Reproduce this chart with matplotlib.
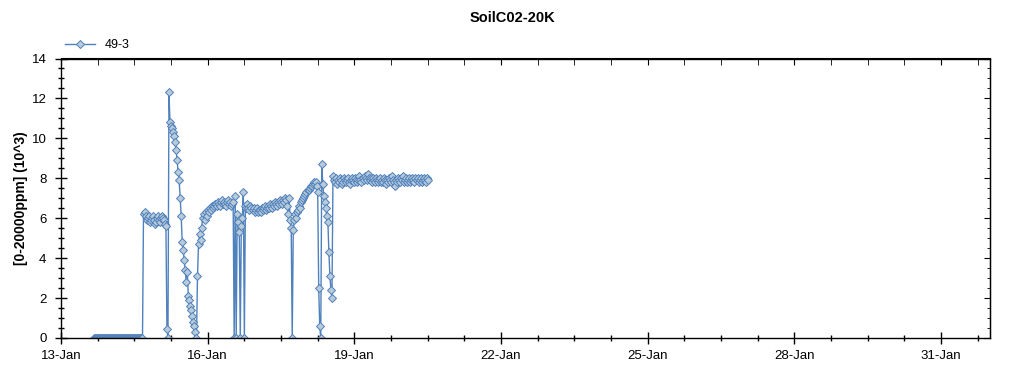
import datetime as dt
import numpy as np
import matplotlib
matplotlib.use('Agg')
import matplotlib.pyplot as plt
from matplotlib.ticker import MultipleLocator, FuncFormatter

plt.rcParams['font.family'] = ['Liberation Sans', 'DejaVu Sans']

# logger 49-3, one reading every 30 min starting 13-Jan 16:00
base_date = dt.datetime(2014, 1, 13)
start_hour = 16
step_minutes = 30

# values in 10^3 ppm
seg_zero = [0.0, 0.0, 0.0, 0.0, 0.0, 0.0, 0.0, 0.0, 0.0, 0.0,
            0.0, 0.0, 0.0, 0.0, 0.0, 0.0, 0.0, 0.0, 0.0, 0.0,
            0.0, 0.0, 0.0, 0.0, 0.0, 0.0, 0.0, 0.0, 0.0, 0.0,
            0.0, 0.0, 0.0, 0.0, 0.0, 0.0, 0.0, 0.0, 0.0, 0.0,
            0.0, 0.0, 0.0, 0.0, 0.0, 0.0, 0.0, 0.0, 0.0]
seg_first = [6.2, 6.3, 6.1, 5.9, 6.0, 6.1, 5.8, 5.9, 6.0, 6.1,
             5.9, 5.7, 5.8, 6.0, 6.1, 5.9, 5.8, 6.0, 6.1, 6.0,
             5.9, 5.7, 5.6]
seg_peak = [0.45, 0.0, 12.3, 10.8, 10.6, 10.5, 10.3, 10.1, 9.8, 9.4,
            8.9, 8.3, 7.9, 7.0, 6.1, 4.8, 4.4, 3.9, 3.4, 2.8,
            3.3, 2.1, 1.9, 1.6, 1.4, 1.1, 0.8, 0.6, 0.3, 0.0]
seg_rise = [3.1, 4.7, 5.2, 4.9, 5.5, 6.0, 6.2, 5.9, 6.3, 6.1,
            6.4, 6.3, 6.5, 6.4, 6.6, 6.5, 6.6, 6.7,
            6.7, 6.6, 6.8, 6.7, 6.6, 6.8, 6.9, 6.7, 6.8, 6.7,
            6.6, 6.8, 6.9, 6.7, 6.8, 6.6, 6.7]
seg_drops = [6.8, 0.0, 7.1, 0.0, 6.2, 5.8, 5.3, 0.0, 5.6, 6.0, 7.3, 0.0]
seg_flat = [6.6, 6.5, 6.7, 6.5, 6.4, 6.6, 6.5, 6.4, 6.5, 6.3,
            6.4, 6.5, 6.3, 6.4, 6.4,
            6.3, 6.5, 6.4, 6.5, 6.6, 6.4, 6.5, 6.6, 6.5, 6.7,
            6.6, 6.5, 6.7, 6.6, 6.8, 6.7, 6.6, 6.8, 6.7, 6.9,
            6.8, 6.7,
            6.9, 6.8, 7.0, 6.9, 6.6, 6.2, 7.0, 5.9, 5.5]
seg_hump = [0.0, 5.4, 5.9, 6.2, 6.0, 6.3, 6.4, 6.6, 6.5, 6.8,
            6.9, 7.0, 7.1, 7.2, 7.3, 7.4, 7.4, 7.5, 7.6, 7.6,
            7.7, 7.8, 7.7, 7.8, 7.6, 7.3, 2.5, 0.6, 0.0, 8.7,
            7.7, 7.1, 6.8, 6.5, 6.1, 5.8, 4.3, 3.1, 2.4, 2.0]
seg_steady = [8.1, 7.9, 7.8, 8.0, 7.7, 7.9, 7.8, 8.0, 7.9, 7.7, 7.8, 8.0,
              7.9, 7.8, 7.9, 8.0, 7.8, 7.7, 7.9, 8.0, 7.9, 7.8, 8.0, 7.9,
              7.8, 7.9, 8.1, 7.9, 7.8, 8.0, 7.9, 8.1, 8.0, 7.9, 8.2, 8.0,
              7.9, 8.0, 7.8, 8.0, 7.9, 7.8, 8.0, 7.9, 7.8, 7.9, 8.0, 7.8,
              7.9, 7.8, 8.0, 7.9, 7.7, 7.9, 7.8, 8.0, 7.9, 7.8, 8.1, 7.9,
              7.8, 7.6, 7.9, 7.8, 8.0, 7.9, 7.8, 8.0, 7.9, 8.1, 7.8, 7.9,
              8.0, 7.8, 7.9, 8.0, 7.8, 7.9, 8.0, 7.9, 7.8, 8.0, 7.9, 8.0,
              7.8, 7.9, 8.0, 7.8, 7.9, 8.0, 7.9, 7.8, 8.0, 7.9]

values = np.array(seg_zero + seg_first + seg_peak + seg_rise + seg_drops
                  + seg_flat + seg_hump + seg_steady)
# time in days since 13-Jan 00:00
days = (start_hour + np.arange(len(values)) * step_minutes / 60.0) / 24.0

line_col = '#4F81BD'
face_col = '#B9CAD8'

fig = plt.figure(figsize=(10.24, 3.75), dpi=100)
ax = fig.add_axes([61 / 1024, 1 - 338 / 375, 929 / 1024, 279.5 / 375])

ax.plot(days, values, color=line_col, lw=1.0, marker='D', ms=4.1,
        mfc=face_col, mec=line_col, mew=0.7, label='49-3')

ax.set_xlim(0, 19)
ax.set_ylim(0, 14)
ax.xaxis.set_major_locator(MultipleLocator(3))
ax.xaxis.set_minor_locator(MultipleLocator(0.75))
ax.xaxis.set_major_formatter(FuncFormatter(
    lambda v, p: (base_date + dt.timedelta(days=v)).strftime('%d-%b').lstrip('0')))
ax.yaxis.set_major_locator(MultipleLocator(2))
ax.yaxis.set_minor_locator(MultipleLocator(0.5))

ax.tick_params(which='major', direction='inout', length=9, width=1,
               labelsize=9.5, color='black')
ax.tick_params(which='minor', direction='inout', length=5, width=1)
ax.tick_params(axis='x', which='major', pad=4)
ax.tick_params(axis='y', which='major', pad=6)

# inward ticks on the top and right frame
top = ax.secondary_xaxis('top')
top.xaxis.set_major_locator(MultipleLocator(3))
top.xaxis.set_minor_locator(MultipleLocator(0.75))
top.tick_params(which='both', direction='in', length=5, labeltop=False)
right = ax.secondary_yaxis('right')
right.yaxis.set_major_locator(MultipleLocator(2))
right.yaxis.set_minor_locator(MultipleLocator(0.5))
right.tick_params(which='major', direction='in', length=4, labelright=False)
right.tick_params(which='minor', direction='in', length=2)

for s in ax.spines.values():
    s.set_linewidth(1)

ax.set_ylabel('[0-20000ppm] (10^3)', fontsize=10, fontweight='bold')
ax.yaxis.set_label_coords(-0.036, 0.5)

fig.text(0.5, 1 - 18 / 375, 'SoilC02-20K', ha='center', va='center',
         fontsize=10.5, fontweight='bold')

fig.legend(loc='center left', bbox_to_anchor=(65 / 1024, 1 - 45.5 / 375),
           frameon=False, fontsize=9, handlelength=2.4, handletextpad=0.8,
           borderpad=0, borderaxespad=0)

fig.savefig('out.png', dpi=100)
